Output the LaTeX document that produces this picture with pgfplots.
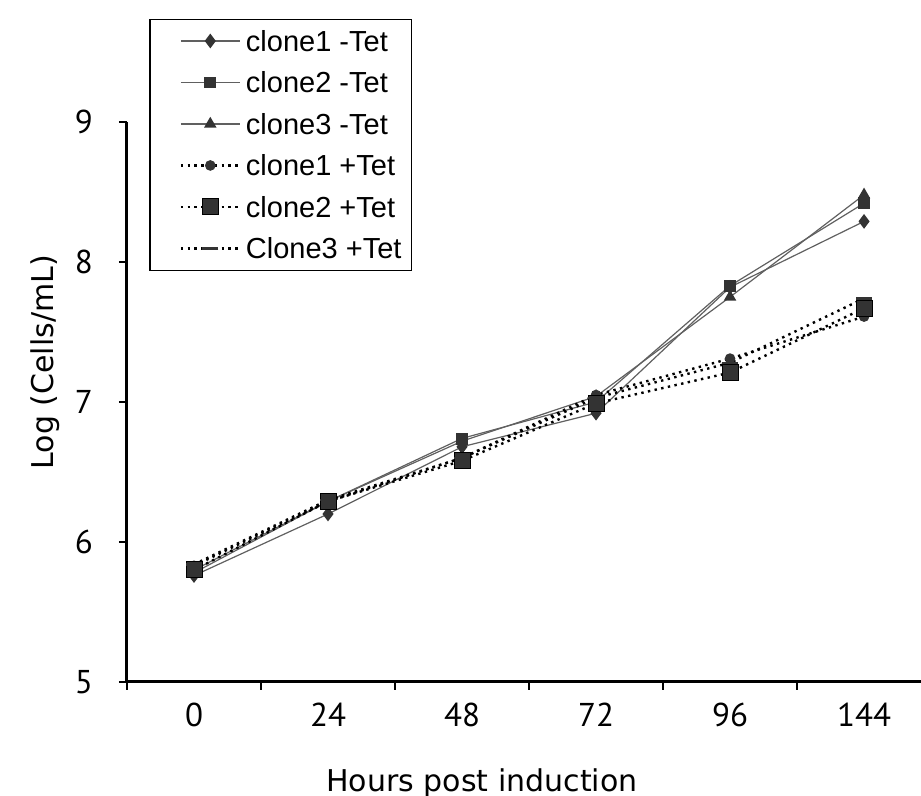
\documentclass[border=0pt]{standalone}
\usepackage{fontspec}
\setmainfont{Liberation Sans}
\newfontfamily\tickfont{PT Sans}
\newfontfamily\labfont{DejaVu Sans}
\usepackage{pgfplots}
\pgfplotsset{compat=1.18}
\definecolor{mk}{HTML}{333333}
\definecolor{ln}{HTML}{606060}

\begin{document}
\begin{tikzpicture}
\path[use as bounding box] (-63.5pt,-57pt) rectangle (397pt,341pt);
\begin{axis}[
  at={(0,0)}, anchor=south west,
  scale only axis, width=397pt, height=280pt,
  xmin=-0.5, xmax=5.425, ymin=5, ymax=9,
  axis x line*=bottom, axis y line*=left,
  axis line style={line width=1.5pt},
  tick align=outside,
  tick style={black, line width=1pt},
  xtick={-0.5,0.5,1.5,2.5,3.5,4.5}, xticklabels={},
  major tick length=4pt,
  extra x ticks={0,1,2,3,4,5},
  extra x tick labels={0,24,48,72,96,144},
  extra x tick style={major tick length=0pt},
  ytick={5,6,7,8,9},
  ticklabel style={font=\tickfont\fontsize{16.5}{18}\selectfont},
  /pgf/number format/assume math mode=true,
  xticklabel shift=7pt,
  yticklabel shift=9.5pt,
  xlabel={Hours post induction},
  ylabel={Log (Cells/mL)},
  label style={font=\labfont\fontsize{15}{18}\selectfont},
  xlabel style={at={(axis description cs:0.447,-0.195)}, anchor=base},
  ylabel style={at={(axis description cs:-0.1033,0.571)}, anchor=center},
  legend style={at={(axis description cs:0.02834,1.1846)}, anchor=north west,
    draw=black, line width=0.6pt, inner xsep=5pt, inner ysep=0.5pt,
    font=\fontsize{14.5}{16}\selectfont,
    nodes={inner sep=0pt, text height=15.6pt, text depth=5.15pt}},
  legend cell align=left,
  legend image code/.code={\path (0pt,0pt) (41.75pt,0pt); \draw[mark repeat=2,mark phase=2] plot coordinates {(9.75pt,0pt) (24.5pt,0pt) (39.25pt,0pt)};},
]
% solid lines: no tetracycline
\addplot[ln, line width=0.6pt, mark=diamond*, mark size=3.2pt, mark options={fill=mk, draw=mk}]
  coordinates {(0,5.76)(1,6.20)(2,6.68)(3,6.92)(4,7.82)(5,8.29)};
\addlegendentry{clone1 -Tet}
\addplot[ln, line width=0.6pt, mark=square*, mark size=2.6pt, mark options={fill=mk, draw=mk}]
  coordinates {(0,5.80)(1,6.29)(2,6.74)(3,7.00)(4,7.83)(5,8.42)};
\addlegendentry{clone2 -Tet}
\addplot[ln, line width=0.6pt, mark=triangle*, mark size=3pt, mark options={fill=mk, draw=mk}]
  coordinates {(0,5.78)(1,6.29)(2,6.72)(3,7.04)(4,7.75)(5,8.48)};
\addlegendentry{clone3 -Tet}
% dotted lines: with tetracycline
\addplot[black, line width=1.2pt, dash pattern=on 1.2pt off 2.2pt, mark=*, mark size=2.4pt, mark options={solid, fill=mk, draw=mk, line width=0.5pt}]
  coordinates {(0,5.83)(1,6.29)(2,6.60)(3,7.05)(4,7.31)(5,7.61)};
\addlegendentry{clone1 +Tet}
\addplot[black, line width=1.2pt, dash pattern=on 1.2pt off 2.2pt, mark=square*, mark size=4pt, mark options={solid, fill=mk, draw=black, line width=0.5pt}]
  coordinates {(0,5.80)(1,6.29)(2,6.58)(3,6.99)(4,7.21)(5,7.67)};
\addlegendentry{clone2 +Tet}
\addplot[black, line width=1.2pt, dash pattern=on 1.2pt off 2.2pt, mark=-, mark size=4pt, mark options={solid, draw=mk, line width=1.2pt}]
  coordinates {(0,5.84)(1,6.30)(2,6.60)(3,7.03)(4,7.28)(5,7.74)};
\addlegendentry{Clone3 +Tet}
\end{axis}
\end{tikzpicture}
\end{document}
